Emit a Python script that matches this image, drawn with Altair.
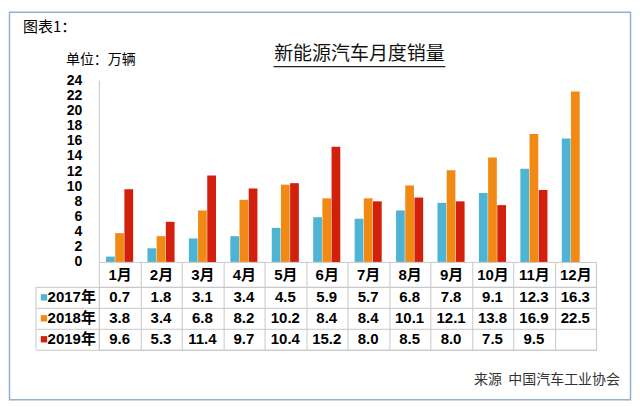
import altair as alt
import pandas as pd

months = ["1月", "2月", "3月", "4月", "5月", "6月", "7月", "8月", "9月", "10月", "11月", "12月"]
series = ["2017年", "2018年", "2019年"]
s2017 = [0.7, 1.8, 3.1, 3.4, 4.5, 5.9, 5.7, 6.8, 7.8, 9.1, 12.3, 16.3]
s2018 = [3.8, 3.4, 6.8, 8.2, 10.2, 8.4, 8.4, 10.1, 12.1, 13.8, 16.9, 22.5]
s2019 = [9.6, 5.3, 11.4, 9.7, 10.4, 15.2, 8.0, 8.5, 8.0, 7.5, 9.5]
colors = ["#4DB5D3", "#F08A14", "#D2200C"]
y_ticks = list(range(0, 25, 2))

rows = []
for name, vals in zip(series, [s2017, s2018, s2019]):
    for m, v in zip(months, vals):
        rows.append({"month": m, "series": name, "value": v})
df = pd.DataFrame(rows)
df_lab = pd.DataFrame({"series": series})

GRID = "#C8C8C8"
FONT = "Liberation Sans, Noto Sans CJK SC"
CJK = "Noto Sans CJK SC"

color_scale = alt.Scale(domain=series, range=colors)
x_scale = alt.Scale(domain=months, paddingInner=0, paddingOuter=0)

bars = alt.Chart(df).mark_bar().encode(
    x=alt.X("month:N", sort=months, scale=x_scale,
            axis=alt.Axis(title=None, labelAngle=0, tickBand="extent", tickSize=25,
                          tickColor=GRID, domainColor=GRID, labelFont=FONT,
                          labelFontSize=15, labelFontWeight="bold", labelColor="#000",
                          labelPadding=-19)),
    xOffset=alt.XOffset("series:N", sort=series,
                        scale=alt.Scale(domain=series, paddingInner=0.05, paddingOuter=0.78)),
    y=alt.Y("value:Q", scale=alt.Scale(domain=[0, 24]),
            axis=alt.Axis(values=y_ticks, title=None, grid=False, ticks=False,
                          labelPadding=17, domainColor=GRID, labelFont=FONT,
                          labelFontSize=14, labelFontWeight="bold", labelColor="#000",
                          labelOverlap=False)),
    color=alt.Color("series:N", scale=color_scale, legend=None),
)

one = alt.Data(values=[{"k": 1}])

frame = alt.Chart(one).mark_rect(fill="transparent", stroke="#95B0D0", strokeWidth=1.5).encode(
    x=alt.value(-89.5), x2=alt.value(532.5), y=alt.value(-68), y2=alt.value(320))

fig_label = alt.Chart(one).mark_text(text="图表1：", font=CJK, fontSize=15, align="left",
                                      baseline="middle", color="#000").encode(
    x=alt.value(-76), y=alt.value(-53))

unit_label = alt.Chart(one).mark_text(text="单位：万辆", font=CJK, fontSize=14, align="left",
                                       baseline="middle", color="#000").encode(
    x=alt.value(-33), y=alt.value(-20))

title = alt.Chart(one).mark_text(text="新能源汽车月度销量", font=CJK, fontSize=19, align="center",
                                  baseline="middle", color="#111").encode(
    x=alt.value(261), y=alt.value(-26))

underline = alt.Chart(one).mark_rule(color="#222", strokeWidth=1.2).encode(
    x=alt.value(175), x2=alt.value(347), y=alt.value(-13.5))

source = alt.Chart(one).mark_text(text="来源\u00a0\u00a0中国汽车工业协会", font=CJK, fontSize=14,
                                   align="right", baseline="middle", color="#333").encode(
    x=alt.value(522), y=alt.value(300))

top = alt.layer(frame, bars, fig_label, unit_label, title, underline, source).properties(
    width=498, height=182, view=alt.ViewBackground(stroke="transparent"))

y_tbl = alt.Y("series:N", sort=series,
              scale=alt.Scale(domain=series, paddingInner=0, paddingOuter=0),
              axis=alt.Axis(title=None, labels=False, ticks=True, tickSize=63,
                            tickBand="extent", tickColor=GRID, domain=False,
                            grid=True, gridColor=GRID))

cells = alt.Chart(df).mark_text(font=FONT, fontSize=15, fontWeight="bold", color="#000").encode(
    x=alt.X("month:N", sort=months, scale=x_scale,
            axis=alt.Axis(title=None, labels=False, ticks=False, domain=False, grid=True,
                          tickBand="extent", gridColor=GRID)),
    y=y_tbl,
    text=alt.Text("value:Q", format=".1f"),
)

row_text = alt.Chart(df_lab).mark_text(font=FONT, fontSize=15, fontWeight="bold", align="right",
                                       color="#000").encode(
    x=alt.value(-3), y=alt.Y("series:N", sort=series), text="series:N")

row_sq = alt.Chart(df_lab).mark_point(shape="square", filled=True, size=40, opacity=1).encode(
    x=alt.value(-55), y=alt.Y("series:N", sort=series),
    color=alt.Color("series:N", scale=color_scale, legend=None))

left_rule = alt.Chart(one).mark_rule(color=GRID).encode(
    x=alt.value(-63), y=alt.value(0), y2=alt.value(63))

table = alt.layer(cells, row_text, row_sq, left_rule).properties(
    width=498, height=63, view=alt.ViewBackground(stroke=GRID))

chart = alt.vconcat(top, table, spacing=25, bounds="flush").properties(
    padding={"top": 2, "left": 0, "right": 0, "bottom": 0},
    background="white",
)

chart.save("out.html", embed_options={"renderer": "svg", "actions": False})
